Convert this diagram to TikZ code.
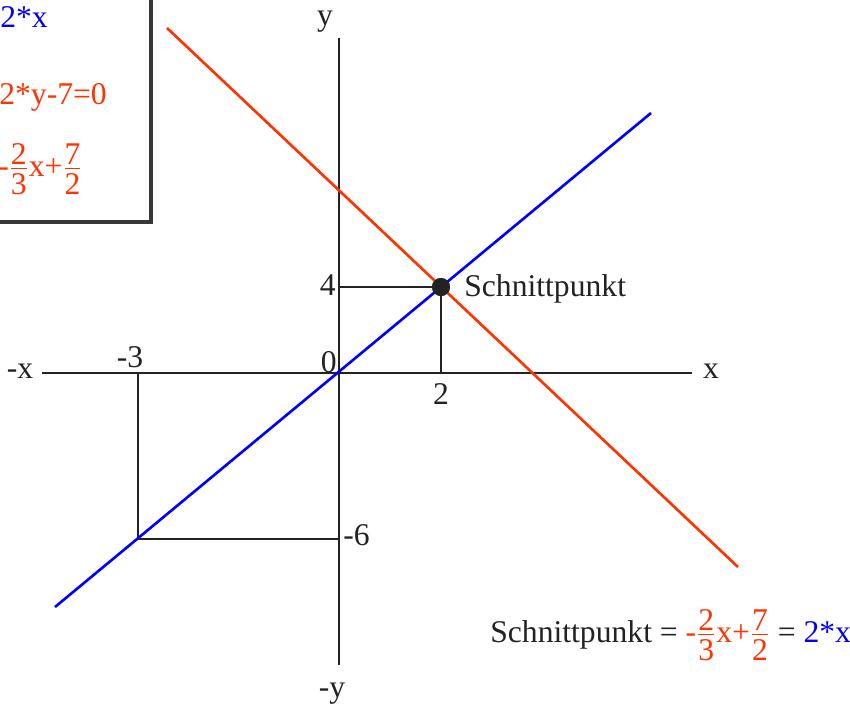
\documentclass[tikz,border=0pt]{standalone}
\usepackage{fontspec}
\setmainfont{Liberation Serif}
\usepackage{amsmath}
\usetikzlibrary{positioning, calc}
\definecolor{Blau}{HTML}{0000FF}
\definecolor{Rot}{HTML}{FF3300}
\definecolor{Dunkel}{HTML}{222222}
\newcommand{\bruch}[2]{$\genfrac{}{}{0.5pt}{1}{\textstyle\text{#1}\rule[-1pt]{0pt}{0pt}}{\textstyle\text{#2}\rule{0pt}{14pt}}$}
\tikzset{
    achse/.style={line width=1.5pt, color=Dunkel},
    hilfslinie/.style={line width=1.5pt, color=Dunkel},
    blaulinie/.style={line width=1.5pt, color=Blau},
    rotlinie/.style={line width=1.5pt, color=Rot},
    kasten/.style={line width=1.9pt, color=Dunkel!90},
    schrift/.style={font=\fontsize{18}{22}\selectfont, inner sep=0pt, text=Dunkel},
    punkt/.style={circle, fill=Dunkel, inner sep=0pt, minimum size=0.36cm},
}

\begin{document}
\begin{tikzpicture}
    % Rahmen
    \useasboundingbox (-6.78,-6.64) rectangle (10.22,7.46);
    \clip (-6.78,-6.64) rectangle (10.22,7.46);

    % Koordinaten
    \coordinate (O) at (0,0);
    \coordinate (xl) at (-5.94,0);
    \coordinate (xr) at (7.06,0);
    \coordinate (yo) at (0,6.70);
    \coordinate (yu) at (0,-5.84);
    \coordinate (y4) at (0,1.72);
    \coordinate (x2) at (2.04,0);
    \coordinate (xm3) at (-4.02,0);
    \coordinate (ym6) at (0,-3.32);
    \coordinate (P) at (-4.02,-3.32);
    \coordinate (b1) at (-5.68,-4.68);
    \coordinate (b2) at (6.24,5.20);
    \coordinate (r1) at (-3.44,6.90);
    \coordinate (r2) at (7.98,-3.88);

    % Kasten mit Gleichungen
    \draw[kasten] (-7,3.02) -- (-3.76,3.02) -- (-3.76,7.7);
    \node[schrift, text=Blau, anchor=base west] (gl1) at (-6.78,6.92) {2*x};
    \node[schrift, text=Rot, anchor=base west] (gl2) at (-6.80,5.38) {2*y-7=0};
    \node[schrift, text=Rot, anchor=base west] (gl3) at (-6.82,3.94) {-\bruch{2}{3}x+\bruch{7}{2}};

    % Achsen
    \draw[achse] (xl) -- (xr);
    \draw[achse] (yo) -- (yu);
    \node[schrift, anchor=base] (lxm) at (-6.38,-0.10) {-x};
    \node[schrift, anchor=base] (lx) at (7.44,-0.10) {x};
    \node[schrift, anchor=base] (ly) at (-0.28,6.96) {y};
    \node[schrift, anchor=base] (lym) at (-0.14,-6.48) {-y};

    % Hilfslinien
    \node[punkt] (S) at (2.04,1.72) {};
    \draw[hilfslinie] (y4) -- (S.center) -- (x2);
    \draw[hilfslinie] (xm3) -- (P) -- (ym6);

    % Geraden
    \draw[blaulinie] (b1) -- (b2);
    \draw[rotlinie] (r1) -- (r2);
    \node[punkt] at (S) {};

    % Beschriftungen
    \node[schrift, anchor=base east] (l4) at (-0.06,1.56) {4};
    \node[schrift, anchor=base east] (l0) at (-0.04,0.02) {0};
    \node[schrift, anchor=base] (l2) at (2.04,-0.62) {2};
    \node[schrift, anchor=base] (lm3) at (-4.18,0.12) {-3};
    \node[schrift, anchor=base west] (lm6) at (0.08,-3.44) {-6};
    \node[schrift, anchor=base west] (lS) at (2.50,1.54) {Schnittpunkt};
    \node[schrift, anchor=base west] (ergebnis) at (3.02,-5.38)
        {Schnittpunkt = \textcolor{Rot}{-\bruch{2}{3}x+\bruch{7}{2}} = \textcolor{Blau}{2*x}};
\end{tikzpicture}
\end{document}
